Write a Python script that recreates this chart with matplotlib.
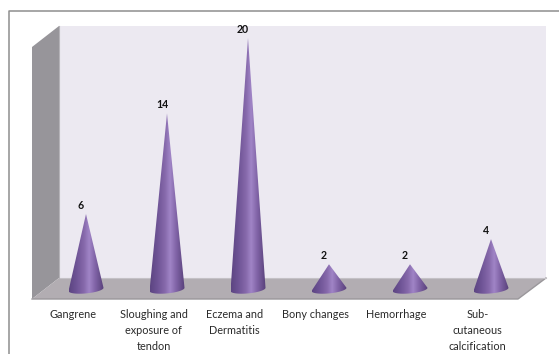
import numpy as np
import matplotlib
matplotlib.use("Agg")
import matplotlib.pyplot as plt
from matplotlib.colors import LinearSegmentedColormap
from matplotlib.patches import Polygon, PathPatch
from matplotlib.path import Path

categories = ["Gangrene", "Sloughing and\nexposure of\ntendon", "Eczema and\nDermatitis",
              "Bony changes", "Hemorrhage", "Sub-\ncutaneous\ncalcification"]
values = [6, 14, 20, 2, 2, 4]

W, H = 559, 354
plt.rcParams["font.family"] = ["Lato", "DejaVu Sans"]
fig = plt.figure(figsize=(W / 100, H / 100), dpi=100, facecolor="white")

# Backdrop in pixel coordinates: frame, walls and floor of the 3D box
bg = fig.add_axes([0, 0, 1, 1])
bg.set_xlim(0, W)
bg.set_ylim(H, 0)
bg.axis("off")
bg.plot([8.5, 8.5, W], [H, 10.5, 10.5], color="#8e8e8e", lw=1.1)
bg.add_patch(Polygon([(59, 26), (546, 26), (546, 278), (59, 278)], fc="#ece9f1", ec="none"))
bg.add_patch(Polygon([(32, 47), (59, 26), (59, 278), (32, 299)], fc="#97959a", ec="none"))
bg.add_patch(Polygon([(32, 299), (59, 278), (546, 278), (518, 299)], fc="#b2adb2", ec="none"))
bg.plot([32, 518, 546], [299, 299, 278], color="#9a979b", lw=1.0)
bg.plot([59, 546], [278, 278], color="#c4c1c6", lw=0.8)
bg.plot([59, 59], [26, 278], color="#b5b3b8", lw=0.8)

# Value axes: category 0 sits at x=86 px, category 5 at x=491 px; value 0 at y=289.4 px
px_per_cat = 81.0
px_per_val = 12.57
y_zero = 289.4
ymin, ymax = -1.5, 22.0
left = 86 - 0.5 * px_per_cat
ax_w = 6 * px_per_cat
top = y_zero - ymax * px_per_val
bottom = y_zero - ymin * px_per_val
ax = fig.add_axes([left / W, 1 - bottom / H, ax_w / W, (bottom - top) / H])
ax.patch.set_alpha(0)
for s in ax.spines.values():
    s.set_visible(False)
ax.set_yticks([])

x_pos = np.arange(len(categories))
ax.set_xticks(x_pos - 0.165)
ax.set_xticklabels(categories, fontsize=7.8, color="#2a2a2a", linespacing=1.58, va="top")
ax.tick_params(axis="x", length=0, pad=0.5)

cone_cmap = LinearSegmentedColormap.from_list(
    "cone", [(0, "#5c4582"), (0.22, "#6f5496"), (0.42, "#8568aa"), (0.58, "#a084c6"),
             (0.76, "#7f62a5"), (1, "#574079")])
grad = np.linspace(0, 1, 256).reshape(1, -1)

half_w = 17.5 / px_per_cat
base_h = 4.0 / px_per_val
tilt = 1.6 / px_per_val

for i, v in zip(x_pos, values):
    # Cone outline: apex, then the front arc of the tilted elliptical base
    t = np.linspace(0, np.pi, 40)
    bx = i + half_w * np.cos(t)
    by = tilt * np.cos(t) - base_h * np.sin(t)
    verts = [(i, v)] + list(zip(bx, by)) + [(i, v)]
    codes = [Path.MOVETO] + [Path.LINETO] * (len(verts) - 2) + [Path.CLOSEPOLY]
    clip = PathPatch(Path(verts, codes), transform=ax.transData, fc="none", ec="none")
    ax.add_patch(clip)
    im = ax.imshow(grad, cmap=cone_cmap, extent=[i - half_w, i + half_w, ymin, v],
                   aspect="auto", zorder=3, interpolation="bilinear")
    im.set_clip_path(clip)
    ax.annotate(str(v), (i, v), xytext=(-3.6, 2.2), textcoords="offset points",
                ha="center", va="bottom", fontsize=7.6, fontweight="bold", color="#111111")

ax.set_xlim(-0.5, 5.5)
ax.set_ylim(ymin, ymax)

fig.savefig("out.png", dpi=100)
